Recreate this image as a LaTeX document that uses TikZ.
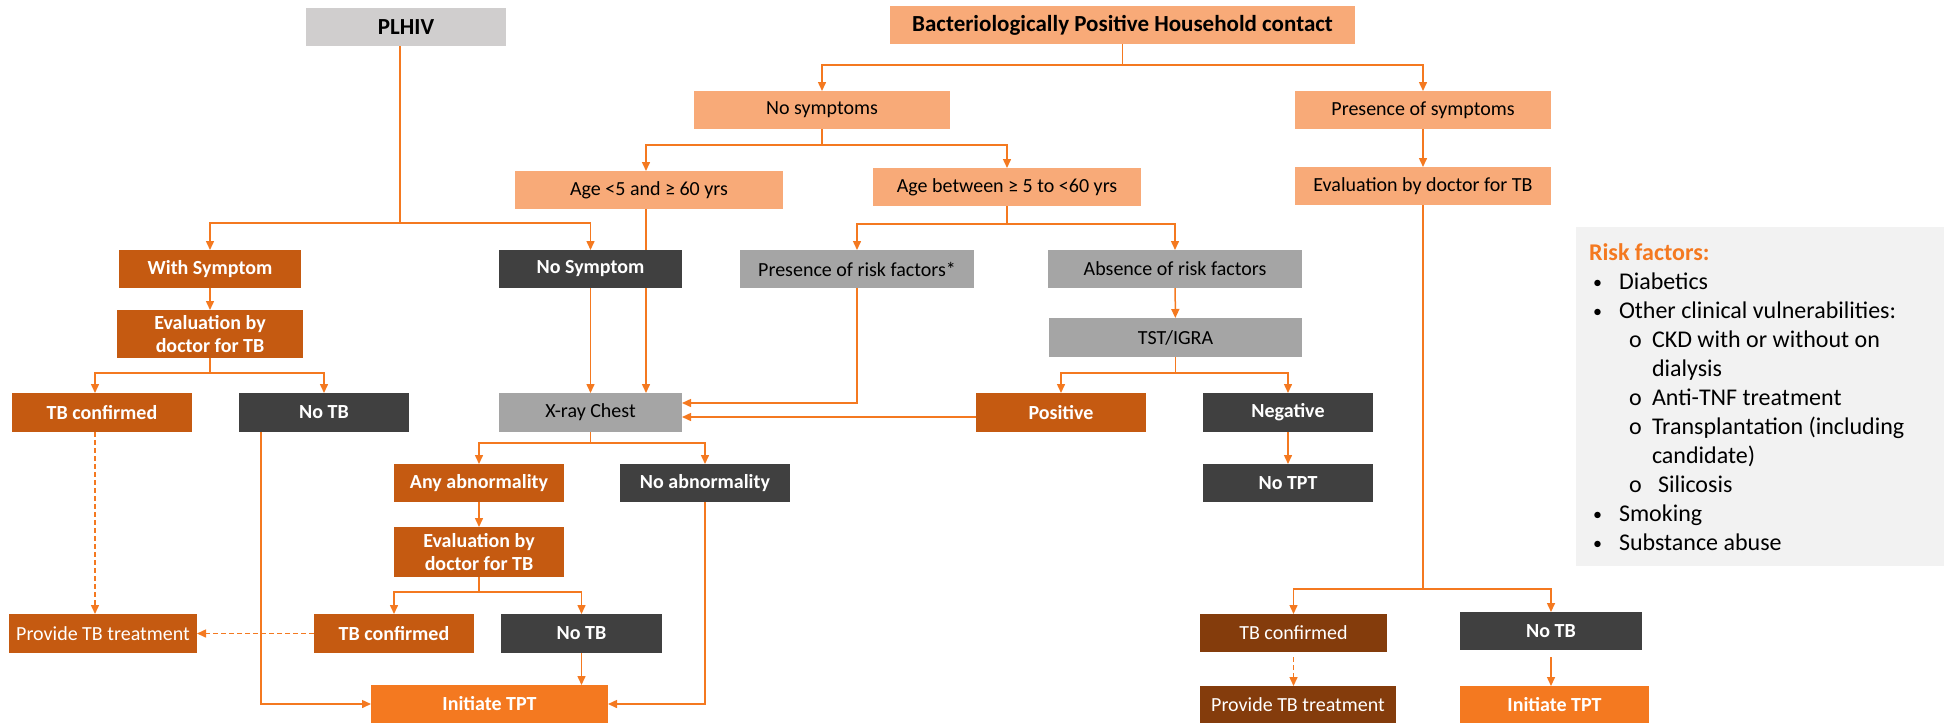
\documentclass[tikz,border=0pt]{standalone}
\usepackage{fontspec}
\setmainfont{Carlito}
\usetikzlibrary{arrows.meta,calc,backgrounds}
\definecolor{cOR}{HTML}{F47920}
\definecolor{cLO}{HTML}{F8AA78}
\definecolor{cDO}{HTML}{C55A11}
\definecolor{cDG}{HTML}{404040}
\definecolor{cGR}{HTML}{A5A5A5}
\definecolor{cBR}{HTML}{843C0C}
\definecolor{cPL}{HTML}{D0CECE}
\definecolor{cRB}{HTML}{F2F2F2}
\tikzset{
 base/.style={inner sep=0pt, outer sep=0pt, align=center, font=\fontsize{10}{11.5}\selectfont},
 hdrPL/.style={base, fill=cPL, text=black, font=\fontsize{11.5}{13}\selectfont\bfseries},
 hdrBA/.style={base, fill=cLO, text=black, font=\fontsize{11.5}{13}\selectfont\bfseries},
 lo/.style={base, fill=cLO, text=black},
 dor/.style={base, fill=cDO, text=white, font=\fontsize{10}{11.5}\selectfont\bfseries},
 dorn/.style={base, fill=cDO, text=white},
 dgr/.style={base, fill=cDG, text=white, font=\fontsize{10}{11.5}\selectfont\bfseries},
 gr/.style={base, fill=cGR, text=black},
 brn/.style={base, fill=cBR, text=white},
 itpt/.style={base, fill=cOR, text=white, font=\fontsize{10}{11.5}\selectfont\bfseries},
 rbox/.style={base, fill=cRB},
 plain/.style={draw=cOR, line width=0.75pt},
 conn/.style={draw=cOR, line width=0.75pt, -{Triangle[length=4.5pt,width=4pt]}},
 dconn/.style={conn, dash pattern=on 2.5pt off 1.5pt},
 rtxt/.style={anchor=base west, inner sep=0pt, outer sep=0pt, font=\fontsize{12}{14}\selectfont},
 rbul/.style={anchor=base west, inner sep=0pt, outer sep=0pt, font=\fontsize{9}{14}\selectfont},
}
\newcommand\mybox[7]{\node[#2, minimum width={(#5-#3)*0.5pt}, minimum height={(#6-#4)*0.5pt}] (#1) at ({(#3+#5)/2},{(#4+#6)/2}) {#7};}
\begin{document}
\begin{tikzpicture}[x=0.5pt,y=-0.5pt]
\useasboundingbox (0,0) rectangle (1944,723);
% nodes
\mybox{plhiv}{hdrPL}{306}{8}{506}{46}{PLHIV}
\mybox{bact}{hdrBA}{890}{6}{1355}{44}{Bacteriologically Positive Household contact}
\mybox{nosym}{lo}{694}{91}{950}{129}{No symptoms}
\mybox{presym}{lo}{1295}{91}{1551}{129}{Presence of symptoms}
\mybox{age5}{lo}{515}{171}{783}{209}{Age <5 and ≥ 60 yrs}
\mybox{agebt}{lo}{873}{168}{1141}{206}{Age between ≥ 5 to <60 yrs}
\mybox{evalR}{lo}{1295}{167}{1551}{205}{Evaluation by doctor for TB}
\mybox{withsym}{dor}{119}{250}{301}{288}{With Symptom}
\mybox{evalL}{dor}{117}{310}{303}{358}{Evaluation by\\doctor for TB}
\mybox{nosymp}{dgr}{499}{250}{682}{288}{No Symptom}
\mybox{prf}{gr}{740}{250}{974}{288}{Presence of risk factors*}
\mybox{arf}{gr}{1048}{250}{1302}{288}{Absence of risk factors}
\mybox{tst}{gr}{1049}{318}{1302}{357}{TST/IGRA}
\mybox{tbcL}{dor}{12}{393}{192}{432}{TB confirmed}
\mybox{notbL}{dgr}{239}{393}{409}{432}{No TB}
\mybox{xray}{gr}{499}{393}{682}{432}{X-ray Chest}
\mybox{pos}{dor}{976}{393}{1146}{432}{Positive}
\mybox{neg}{dgr}{1203}{393}{1373}{432}{Negative}
\mybox{anyab}{dor}{394}{464}{564}{502}{Any abnormality}
\mybox{noab}{dgr}{620}{464}{790}{502}{No abnormality}
\mybox{notpt}{dgr}{1203}{464}{1373}{502}{No TPT}
\mybox{evalM}{dor}{394}{527}{564}{577}{Evaluation by\\doctor for TB}
\mybox{provL}{dorn}{9}{614}{197}{653}{Provide TB treatment}
\mybox{tbcM}{dor}{314}{614}{474}{653}{TB confirmed}
\mybox{notbM}{dgr}{501}{614}{662}{653}{No TB}
\mybox{tbcR}{brn}{1200}{614}{1387}{652}{TB confirmed}
\mybox{notbR}{dgr}{1460}{612}{1642}{650}{No TB}
\mybox{initM}{itpt}{371}{685}{608}{723}{Initiate TPT}
\mybox{provR}{brn}{1200}{686}{1396}{723}{Provide TB treatment}
\mybox{initR}{itpt}{1460}{686}{1649}{723}{Initiate TPT}
\mybox{riskbox}{rbox}{1576}{227}{1944}{566}{}
% risk list
\node[rtxt, text=cOR, font=\fontsize{12}{14}\selectfont\bfseries] (rt0) at (1589,260) {Risk factors:};
\node[rbul] (rb1) at (1593,288) {•}; \node[rtxt] (rt1) at (1619,289) {Diabetics};
\node[rbul] (rb2) at (1593,317) {•}; \node[rtxt] (rt2) at (1619,318) {Other clinical vulnerabilities:};
\node[rtxt] (rb3) at (1629,347) {o}; \node[rtxt] (rt3) at (1652,347) {CKD with or without on};
\node[rtxt] (rt3b) at (1652,376) {dialysis};
\node[rtxt] (rb4) at (1629,405) {o}; \node[rtxt] (rt4) at (1652,405) {Anti-TNF treatment};
\node[rtxt] (rb5) at (1629,434) {o}; \node[rtxt] (rt5) at (1652,434) {Transplantation (including};
\node[rtxt] (rt5b) at (1652,463) {candidate)};
\node[rtxt] (rb6) at (1629,492) {o}; \node[rtxt] (rt6) at (1658,492) {Silicosis};
\node[rbul] (rb7) at (1593,520) {•}; \node[rtxt] (rt7) at (1619,521) {Smoking};
\node[rbul] (rb8) at (1593,549) {•}; \node[rtxt] (rt8) at (1619,550) {Substance abuse};
% PLHIV branch
\coordinate (bPL) at (0,223);
\draw[plain] ($(plhiv.south)+(-6,0)$) -- ($(plhiv.south |- bPL)+(-6,0)$);
\draw[conn] ($(plhiv.south |- bPL)+(-6,0)$) -| (withsym.north);
\draw[conn] ($(plhiv.south |- bPL)+(-6,0)$) -| (nosymp.north);
\draw[conn] (withsym) -- (evalL);
\coordinate (bEL) at (0,373);
\draw[plain] (evalL.south) -- (evalL.south |- bEL);
\draw[conn] (evalL.south |- bEL) -| ($(tbcL.north)+(-7,0)$);
\draw[conn] (evalL.south |- bEL) -| (notbL.north);
\draw[dconn] ($(tbcL.south)+(-7,0)$) -- ($(provL.north)+(-8,0)$);
\draw[conn] (nosymp.south) -- (nosymp.south |- xray.north);
\begin{scope}[on background layer]
\draw[conn] ($(age5.south)+(-3,0)$) -- ($(age5.south |- xray.north)+(-3,0)$);
\end{scope}
\draw[conn] (prf.south) |- ($(xray.east)+(0,-9.5)$);
\draw[conn] ($(pos.west)+(0,4.5)$) -- ($(xray.east)+(0,4.5)$);
\coordinate (bXR) at (0,443);
\draw[plain] (xray.south) -- (xray.south |- bXR);
\draw[conn] (xray.south |- bXR) -| (anyab.north);
\draw[conn] (xray.south |- bXR) -| (noab.north);
\draw[conn] (anyab) -- (evalM);
\coordinate (bEM) at (0,592);
\draw[plain] (evalM.south) -- (evalM.south |- bEM);
\draw[conn] (evalM.south |- bEM) -| (tbcM.north);
\draw[conn] (evalM.south |- bEM) -| (notbM.north);
\draw[dconn] (tbcM.west) -- (provL.east);
\draw[conn] (notbM.south) -- (notbM.south |- initM.north);
\draw[conn] ($(notbL.south west)+(22,0)$) |- (initM.west);
\draw[conn] (noab.south) |- (initM.east);
% household branch
\coordinate (bBA) at (0,65);
\draw[plain] (bact.south) -- (bact.south |- bBA);
\draw[conn] (bact.south |- bBA) -| (nosym.north);
\draw[conn] (bact.south |- bBA) -| (presym.north);
\coordinate (bNS) at (0,145);
\draw[plain] (nosym.south) -- (nosym.south |- bNS);
\draw[conn] (nosym.south |- bNS) -| ($(age5.north)+(-3,0)$);
\draw[conn] (nosym.south |- bNS) -| (agebt.north);
\coordinate (bAB) at (0,224);
\draw[plain] (agebt.south) -- (agebt.south |- bAB);
\draw[conn] (agebt.south |- bAB) -| (prf.north);
\draw[conn] (agebt.south |- bAB) -| (arf.north);
\draw[conn] (arf) -- (tst);
\coordinate (bTS) at (0,373);
\draw[plain] (tst.south) -- (tst.south |- bTS);
\draw[conn] (tst.south |- bTS) -| (pos.north);
\draw[conn] (tst.south |- bTS) -| (neg.north);
\draw[conn] (neg) -- (notpt);
\draw[conn] (presym) -- (evalR);
\coordinate (bER) at (0,589);
\draw[plain] (evalR.south) -- (evalR.south |- bER);
\draw[conn] (evalR.south |- bER) -| (tbcR.north);
\draw[conn] (evalR.south |- bER) -| (notbR.north);
\draw[dconn] ($(tbcR.south)+(0,5)$) -- (tbcR.south |- provR.north);
\draw[conn] ($(notbR.south)+(0,7)$) -- (notbR.south |- initR.north);
\end{tikzpicture}
\end{document}
